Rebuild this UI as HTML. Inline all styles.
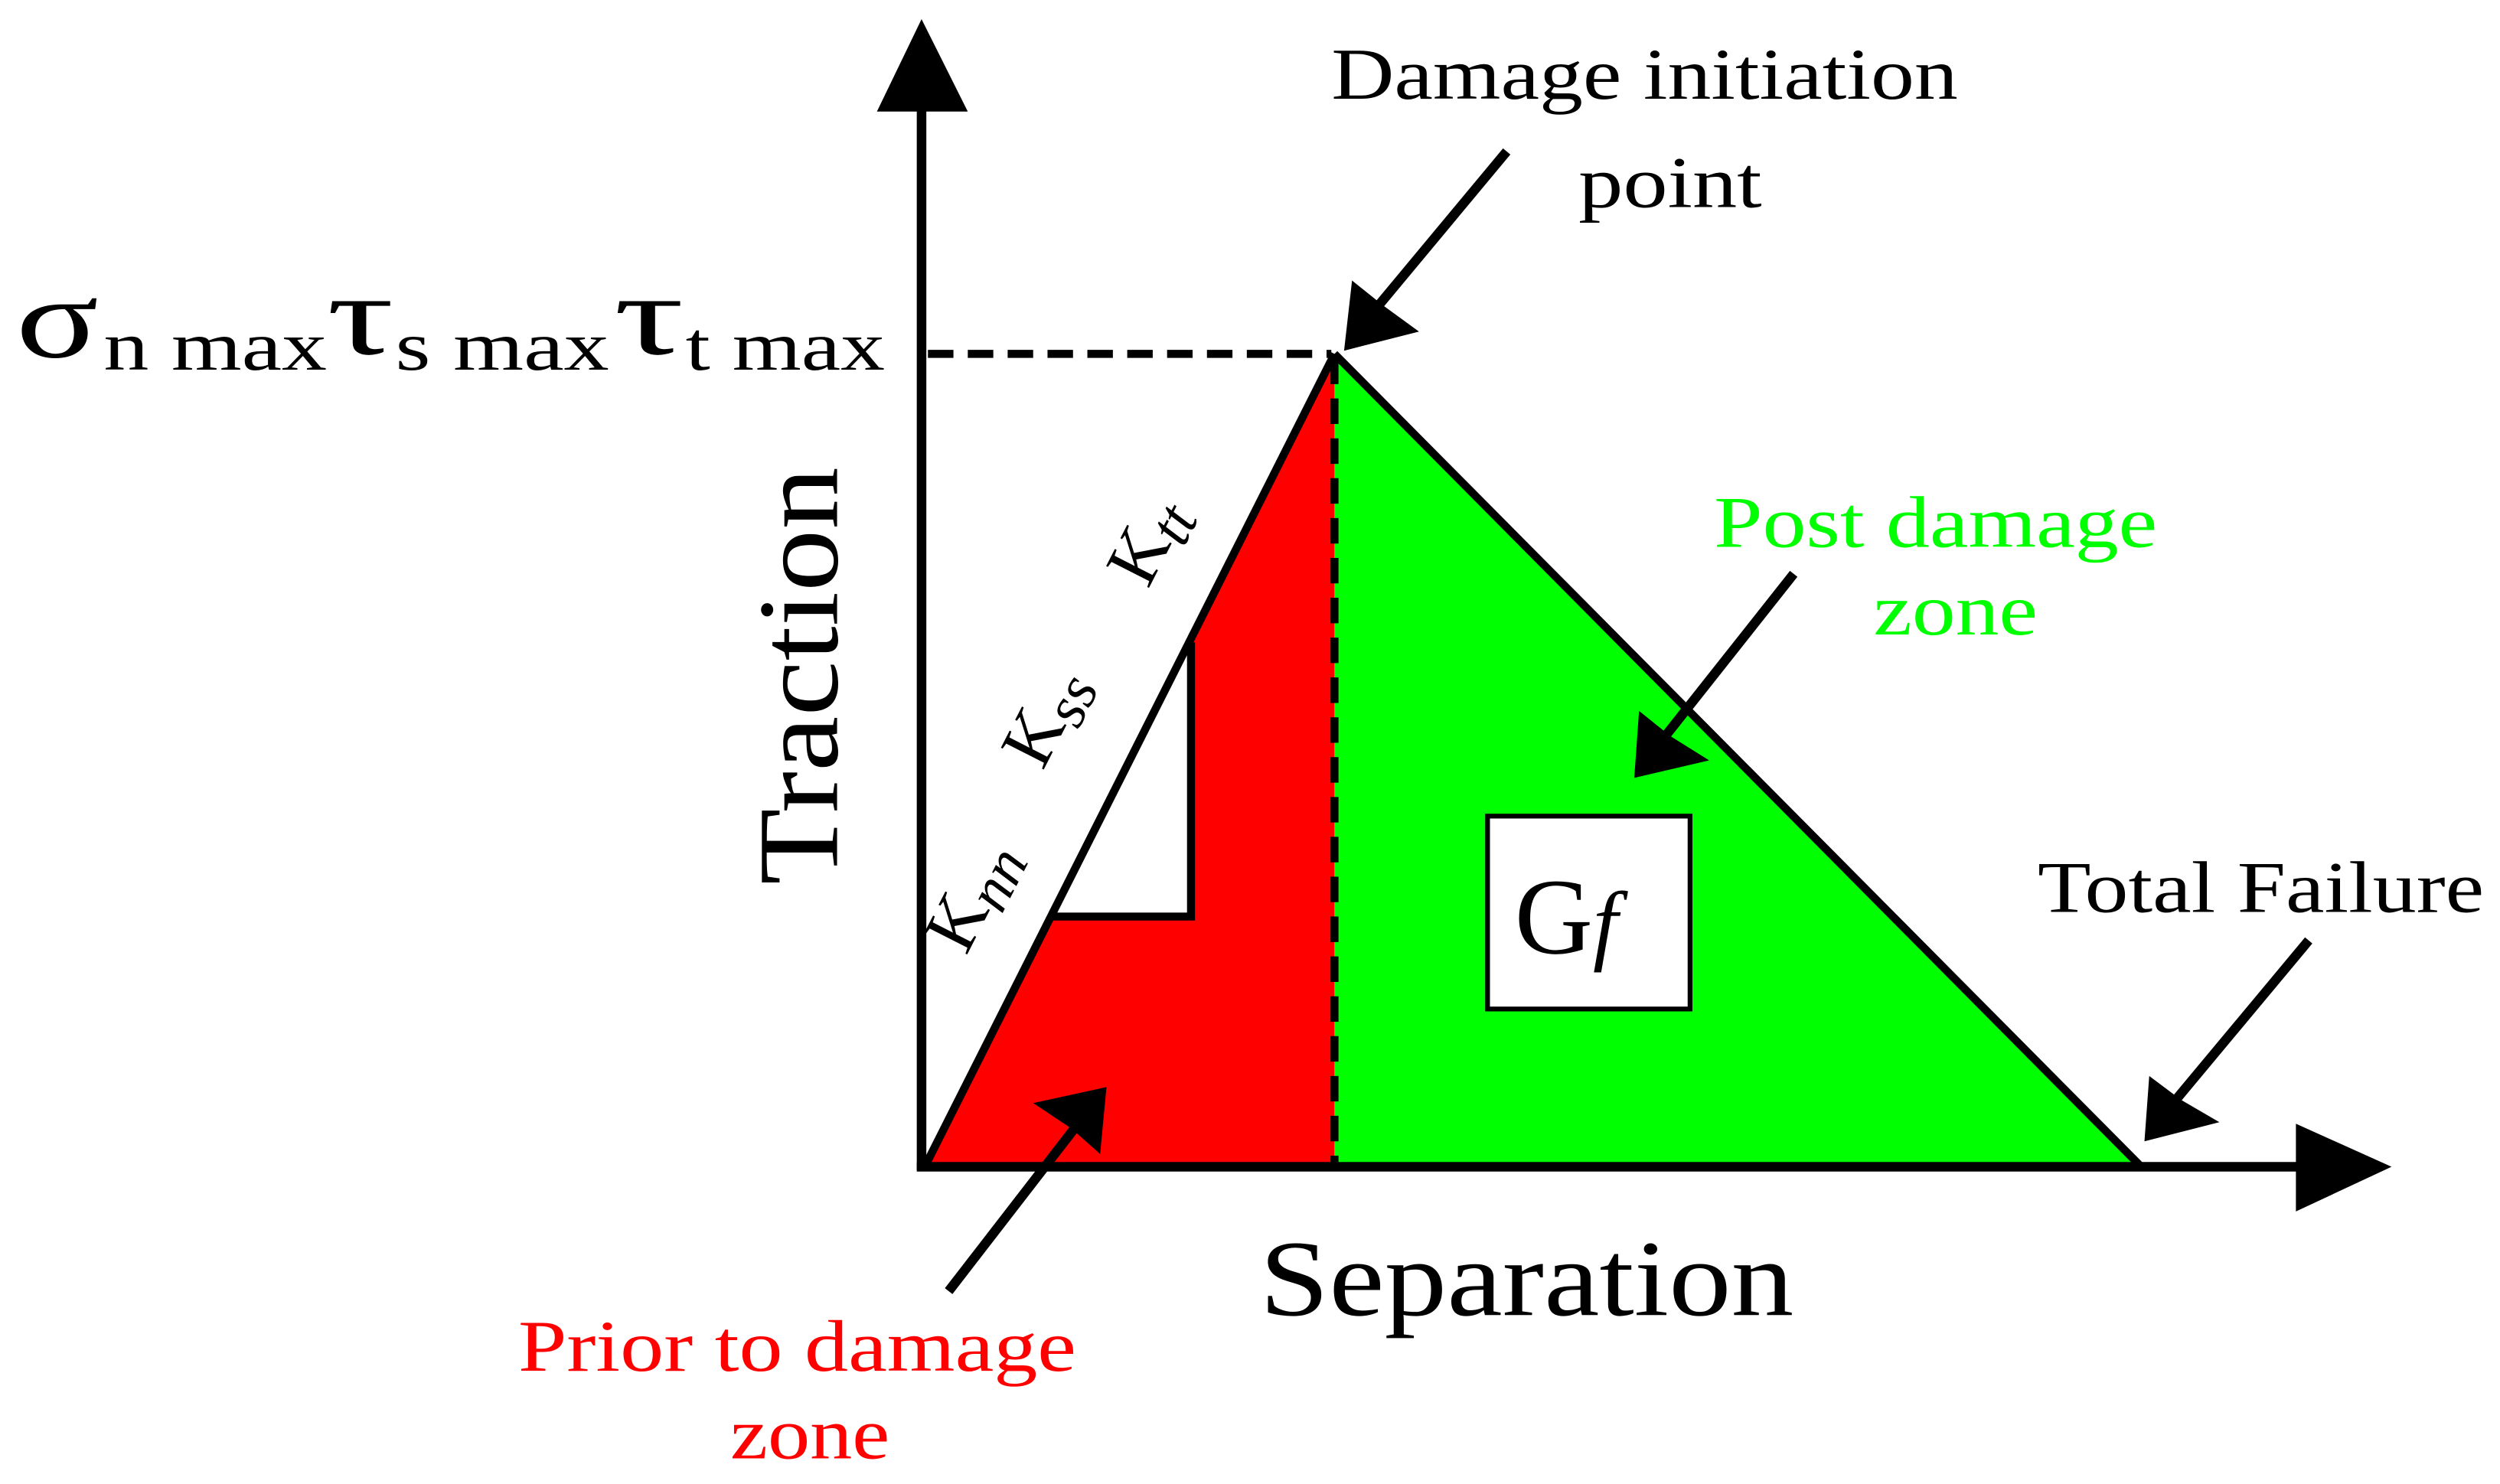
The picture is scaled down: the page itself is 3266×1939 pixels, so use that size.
<!DOCTYPE html>
<html><head><meta charset="utf-8"><style>html,body{margin:0;padding:0;background:#fff}svg{display:block}</style></head>
<body>
<svg width="3266" height="1939" viewBox="0 0 1568 931" preserveAspectRatio="none" xmlns="http://www.w3.org/2000/svg" font-family="Liberation Serif, serif">
<polygon points="580,732 837,222 837,732" fill="#ff0000"/>
<polygon points="837,222 1343,732 837,732" fill="#00ff00"/>
<polygon points="659,575 747,575 747,403" fill="#fff"/>
<polyline points="659,575 747,575 747,403" fill="none" stroke="#000" stroke-width="5"/>
<line x1="580" y1="732" x2="837" y2="222" stroke="#000" stroke-width="5"/>
<line x1="837" y1="222" x2="1343" y2="732" stroke="#000" stroke-width="5"/>
<line x1="837" y1="225" x2="837" y2="732" stroke="#000" stroke-width="5" stroke-dasharray="16,9"/>
<line x1="582" y1="222" x2="835" y2="222" stroke="#000" stroke-width="5" stroke-dasharray="16,9"/>
<line x1="578" y1="60" x2="578" y2="734" stroke="#000" stroke-width="6"/>
<polygon points="578,12 550,70 607,70" fill="#000"/>
<line x1="575" y1="732" x2="1450" y2="732" stroke="#000" stroke-width="6"/>
<polygon points="1500,732 1440,705 1440,760" fill="#000"/>
<rect x="933" y="512" width="127" height="121" fill="#fff" stroke="#000" stroke-width="3"/>
<text x="950" y="598" font-size="68">G<tspan font-style="italic" font-size="56">f</tspan></text>
<g stroke="#000" stroke-width="6">
<line x1="945" y1="95" x2="856" y2="202"/>
<line x1="1125" y1="360" x2="1038" y2="470"/>
<line x1="1448" y1="590" x2="1358" y2="698"/>
<line x1="595" y1="810" x2="680" y2="700"/>
</g>
<g fill="#000">
<polygon points="843,220 848,176 868,192 890,208"/>
<polygon points="1025,488 1028,446 1048,462 1072,477"/>
<polygon points="1345,716 1348,675 1368,690 1392,704"/>
<polygon points="694,682 690,724 672,708 648,692"/>
</g>
<g font-weight="bold" fill="#000">
<text x="835" y="62" font-size="46" font-weight="normal" textLength="393" lengthAdjust="spacingAndGlyphs">Damage initiation</text>
</g>
<text x="990" y="130" font-size="46" textLength="115" lengthAdjust="spacingAndGlyphs">point</text>
<text x="10" y="224" font-size="72" textLength="52" lengthAdjust="spacingAndGlyphs">σ</text>
<text x="65" y="232" font-size="44" textLength="140" lengthAdjust="spacingAndGlyphs">n max</text>
<text x="205" y="222" font-size="72" textLength="42" lengthAdjust="spacingAndGlyphs">τ</text>
<text x="248" y="232" font-size="44" textLength="134" lengthAdjust="spacingAndGlyphs">s max</text>
<text x="385" y="222" font-size="72" textLength="44" lengthAdjust="spacingAndGlyphs">τ</text>
<text x="430" y="232" font-size="44" textLength="125" lengthAdjust="spacingAndGlyphs">t max</text>
<text transform="translate(525,555) rotate(-90)" font-size="72" textLength="262" lengthAdjust="spacingAndGlyphs">Traction</text>
<text x="790" y="825" font-size="68" textLength="335" lengthAdjust="spacingAndGlyphs">Separation</text>
<text x="1075" y="343" font-size="46" fill="#00ff00" textLength="278" lengthAdjust="spacingAndGlyphs">Post damage</text>
<text x="1175" y="398" font-size="46" fill="#00ff00" textLength="103" lengthAdjust="spacingAndGlyphs">zone</text>
<text x="1278" y="572" font-size="46" textLength="280" lengthAdjust="spacingAndGlyphs">Total Failure</text>
<text x="325" y="860" font-size="46" fill="#ff0000" textLength="350" lengthAdjust="spacingAndGlyphs">Prior to damage</text>
<text x="458" y="915" font-size="46" fill="#ff0000" textLength="100" lengthAdjust="spacingAndGlyphs">zone</text>
<text transform="translate(606,600) rotate(-63)" font-size="46">K<tspan font-style="italic" font-size="38" dy="8">nn</tspan></text>
<text transform="translate(654,484) rotate(-63)" font-size="46">K<tspan font-style="italic" font-size="38" dy="8">ss</tspan></text>
<text transform="translate(720,370) rotate(-63)" font-size="46">K<tspan font-style="italic" font-size="38" dy="8">tt</tspan></text>
</svg>
</body></html>
